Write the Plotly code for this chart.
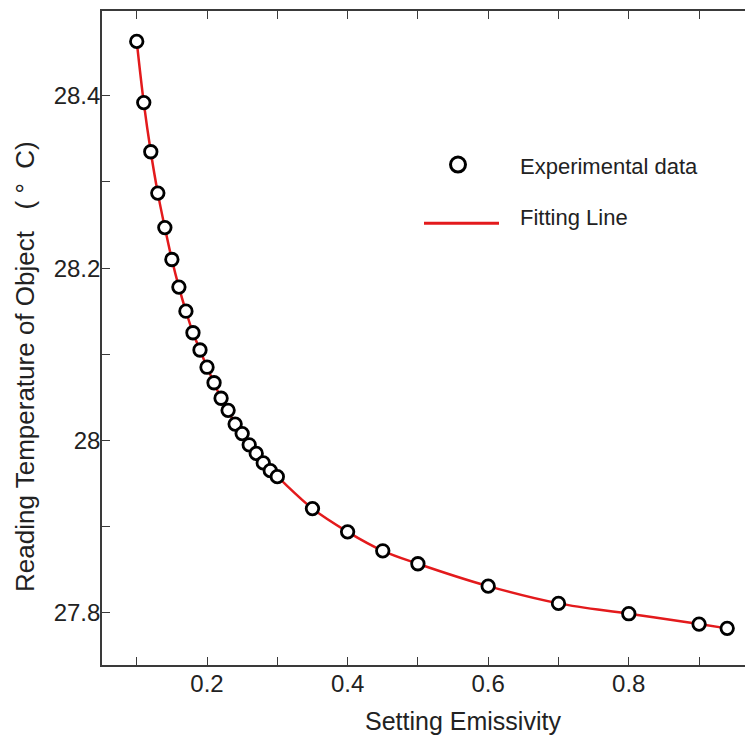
import plotly.graph_objects as go

emissivity = [0.10, 0.11, 0.12, 0.13, 0.14, 0.15, 0.16, 0.17, 0.18, 0.19, 0.20,
              0.21, 0.22, 0.23, 0.24, 0.25, 0.26, 0.27, 0.28, 0.29, 0.30,
              0.35, 0.40, 0.45, 0.50, 0.60, 0.70, 0.80, 0.90, 0.94]
temperature = [28.463, 28.392, 28.335, 28.287, 28.247, 28.210, 28.178, 28.150, 28.125, 28.105, 28.085,
               28.067, 28.049, 28.035, 28.019, 28.008, 27.995, 27.985, 27.974, 27.965, 27.958,
               27.921, 27.894, 27.872, 27.857, 27.831, 27.811, 27.799, 27.787, 27.782]

x_tickvals = [0.1, 0.2, 0.3, 0.4, 0.5, 0.6, 0.7, 0.8, 0.9]
x_ticktext = ["", "0.2", "", "0.4", "", "0.6", "", "0.8", ""]
y_tickvals = [27.8, 27.9, 28.0, 28.1, 28.2, 28.3, 28.4]
y_ticktext = ["27.8", "", "28", "", "28.2", "", "28.4"]

FONT = "Liberation Sans, Arial, sans-serif"
TXT = "#222222"
RED = "#e31a1c"

# page is shown with an 8px body margin, so the figure is offset by 8px
OFF = 8
W, H = 753, 737
ML, MR, MT, MB = 94, 8, 1, 80
PW, PH = W - ML - MR, H - MT - MB

def px(xp):
    return (xp - OFF - ML) / PW

def py(yp):
    return (H - MB - (yp - OFF)) / PH

fig = go.Figure()
fig.add_trace(go.Scatter(
    x=emissivity, y=temperature, mode="lines",
    line=dict(color=RED, width=2.5, shape="spline", smoothing=1.0),
    name="Fitting Line", showlegend=False, hoverinfo="skip"))
fig.add_trace(go.Scatter(
    x=emissivity, y=temperature, mode="markers",
    marker=dict(symbol="circle", size=12.5, color="white",
                line=dict(color="black", width=2.8)),
    name="Experimental data", showlegend=False))

axis_common = dict(showgrid=False, zeroline=False, showline=True,
                   linecolor="#3a3a3a", linewidth=1.6, mirror="ticks",
                   ticks="inside", ticklen=8, tickwidth=1.3, tickcolor="#3a3a3a",
                   tickfont=dict(family=FONT, size=24, color=TXT))

fig.update_xaxes(range=[0.0506, 0.9767], tickmode="array",
                 tickvals=x_tickvals, ticktext=x_ticktext,
                 ticklabelstandoff=-4, **axis_common)
fig.update_yaxes(range=[27.7395, 28.4983], tickmode="array",
                 tickvals=y_tickvals, ticktext=y_ticktext,
                 ticklabelstandoff=-5, **axis_common)

# manual legend
fig.add_shape(type="circle", xref="paper", yref="paper",
              xsizemode="pixel", ysizemode="pixel",
              xanchor=px(458), yanchor=py(163),
              x0=-7.5, x1=7.5, y0=-7.5, y1=7.5,
              line=dict(color="black", width=3), fillcolor="white")
fig.add_shape(type="line", xref="paper", yref="paper",
              x0=px(424), x1=px(499), y0=py(222), y1=py(222),
              line=dict(color=RED, width=3))

annotations = [
    dict(text="Experimental data", x=px(518), y=py(165), xanchor="left", yanchor="middle",
         font=dict(family=FONT, size=22, color=TXT)),
    dict(text="Fitting Line", x=px(518), y=py(216), xanchor="left", yanchor="middle",
         font=dict(family=FONT, size=22, color=TXT)),
    dict(text="Setting Emissivity", x=px(463), y=py(721), xanchor="center", yanchor="middle",
         font=dict(family=FONT, size=25, color=TXT)),
    dict(text="Reading Temperature of Object   ( °  C)", x=px(25), y=py(366),
         xanchor="center", yanchor="middle", textangle=-90,
         font=dict(family=FONT, size=26, color=TXT)),
]
for a in annotations:
    a.update(xref="paper", yref="paper", showarrow=False)
fig.update_layout(annotations=annotations)

fig.update_layout(width=W, height=H, margin=dict(l=ML, r=MR, t=MT, b=MB),
                  paper_bgcolor="white", plot_bgcolor="white",
                  font=dict(family=FONT, color=TXT))

fig.write_html("out.html")
